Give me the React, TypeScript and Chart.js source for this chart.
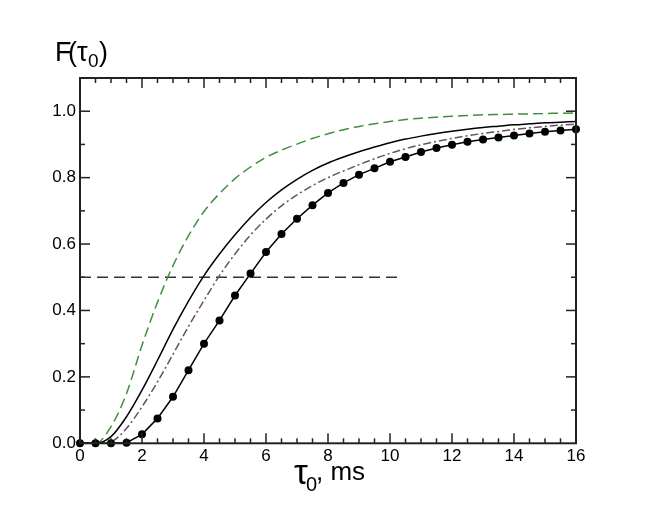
import React, { useEffect, useRef } from 'react';
import { Chart, registerables } from 'chart.js';

Chart.register(...registerables);

// tau_0, ms (sampling of all curves)
const tau = [0, 0.5, 1, 1.5, 2, 2.5, 3, 3.5, 4, 4.5, 5, 5.5, 6, 6.5, 7, 7.5, 8, 8.5, 9, 9.5, 10, 10.5, 11, 11.5, 12, 12.5, 13, 13.5, 14, 14.5, 15, 15.5, 16];

const greenDashed = [0, 0, 0.05, 0.15, 0.295, 0.425, 0.535, 0.625, 0.698, 0.752, 0.797, 0.832, 0.861, 0.883, 0.901, 0.918, 0.932, 0.944, 0.954, 0.962, 0.969, 0.975, 0.979, 0.982, 0.985, 0.987, 0.989, 0.99, 0.991, 0.992, 0.993, 0.994, 0.995];
const blackSolid = [0, 0, 0.02, 0.08, 0.16, 0.25, 0.343, 0.428, 0.505, 0.57, 0.628, 0.68, 0.725, 0.763, 0.795, 0.822, 0.844, 0.862, 0.878, 0.892, 0.905, 0.916, 0.925, 0.933, 0.94, 0.946, 0.951, 0.955, 0.959, 0.962, 0.965, 0.967, 0.969];
const purpleDashDot = [0, 0, 0.005, 0.045, 0.11, 0.185, 0.268, 0.352, 0.43, 0.505, 0.57, 0.627, 0.675, 0.715, 0.748, 0.776, 0.8, 0.82, 0.839, 0.857, 0.873, 0.887, 0.899, 0.909, 0.918, 0.926, 0.933, 0.939, 0.945, 0.95, 0.954, 0.958, 0.961];
const blackDots = [0, 0, 0, 0.002, 0.027, 0.075, 0.14, 0.22, 0.3, 0.37, 0.445, 0.511, 0.576, 0.63, 0.676, 0.717, 0.754, 0.784, 0.809, 0.828, 0.848, 0.862, 0.877, 0.889, 0.899, 0.908, 0.915, 0.921, 0.927, 0.933, 0.938, 0.942, 0.946];

const halfLineX = [0, 10.3];
const halfLineY = [0.5, 0.5];

const xTicks = [0, 2, 4, 6, 8, 10, 12, 14, 16];
const yTicks = [0, 0.2, 0.4, 0.6, 0.8, 1.0];
const xRange = [0, 16];
const yRange = [0, 1.1];
const xMinorStep = 0.5;
const yMinorStep = 0.1;

const FONT = '"Liberation Sans", Arial, Helvetica, sans-serif';

const pts = (xs: number[], ys: number[]) => xs.map((x, i) => ({ x, y: ys[i] }));

const framePlugin = {
  id: 'frame',
  afterDraw(chart: any) {
    const { ctx, chartArea: a, scales } = chart;
    const x = scales.x;
    const y = scales.y;
    ctx.save();
    ctx.strokeStyle = '#222';
    ctx.lineWidth = 1.5;
    const line = (x1: number, y1: number, x2: number, y2: number) => {
      ctx.beginPath();
      ctx.moveTo(x1, y1);
      ctx.lineTo(x2, y2);
      ctx.stroke();
    };
    const nx = Math.round((xRange[1] - xRange[0]) / xMinorStep);
    for (let i = 1; i < nx; i++) {
      const v = xRange[0] + i * xMinorStep;
      const major = xTicks.some((t) => Math.abs(t - v) < 1e-9);
      const L = major ? 10 : 5;
      const px = x.getPixelForValue(v);
      line(px, a.bottom, px, a.bottom - L);
      line(px, a.top, px, a.top + L);
    }
    const ny = Math.round((yRange[1] - yRange[0]) / yMinorStep);
    for (let i = 1; i < ny; i++) {
      const v = yRange[0] + i * yMinorStep;
      const major = yTicks.some((t) => Math.abs(t - v) < 1e-9);
      const L = major ? 10 : 5;
      const py = y.getPixelForValue(v);
      line(a.left, py, a.left + L, py);
      line(a.right, py, a.right - L, py);
    }
    ctx.lineWidth = 2;
    ctx.strokeRect(a.left, a.top, a.right - a.left, a.bottom - a.top);

    // axis titles
    ctx.fillStyle = '#000';
    ctx.textBaseline = 'alphabetic';
    ctx.textAlign = 'left';
    // F(τ0)
    ctx.font = `27px ${FONT}`;
    ctx.fillText('F', a.left - 25, a.top - 17);
    ctx.fillText('(', a.left - 12, a.top - 17);
    ctx.fillText('τ', a.left - 3, a.top - 17);
    ctx.fillText(')', a.left + 19, a.top - 17);
    ctx.font = `19px ${FONT}`;
    ctx.fillText('0', a.left + 8, a.top - 11);
    // τ0, ms
    const cx = (a.left + a.right) / 2;
    ctx.font = `35px ${FONT}`;
    ctx.fillText('τ', cx - 34, a.bottom + 41);
    ctx.font = `20px ${FONT}`;
    ctx.fillText('0', cx - 22, a.bottom + 48);
    ctx.font = `26px ${FONT}`;
    ctx.fillText(', ms', cx - 12, a.bottom + 37);
    ctx.restore();
  },
};

export default function App() {
  const ref = useRef<HTMLCanvasElement>(null);
  useEffect(() => {
    const canvas = ref.current!;
    const chart = new Chart(canvas, {
      type: 'line',
      data: {
        datasets: [
          {
            data: pts(tau, blackDots),
            borderColor: '#000',
            backgroundColor: '#000',
            borderWidth: 1.5,
            pointRadius: 4,
            pointBackgroundColor: '#000',
            pointBorderWidth: 0,
            tension: 0,
          },
          {
            data: pts(tau, blackSolid),
            borderColor: '#000',
            borderWidth: 1.5,
            pointRadius: 0,
            cubicInterpolationMode: 'monotone',
          },
          {
            data: pts(tau, purpleDashDot),
            borderColor: '#6b4c6b',
            borderWidth: 1.5,
            borderDash: [8, 3, 2, 3],
            pointRadius: 0,
            cubicInterpolationMode: 'monotone',
          },
          {
            data: pts(tau, greenDashed),
            borderColor: '#3f8f3f',
            borderWidth: 1.5,
            borderDash: [10, 5],
            pointRadius: 0,
            cubicInterpolationMode: 'monotone',
          },
          {
            data: pts(halfLineX, halfLineY),
            borderColor: '#333',
            borderWidth: 1.3,
            borderDash: [11, 6],
            pointRadius: 0,
          },
        ],
      },
      options: {
        responsive: false,
        animation: false,
        devicePixelRatio: 1,
        clip: false as any,
        layout: { padding: { left: 0, right: 78, top: 78, bottom: 0 } },
        plugins: {
          legend: { display: false },
          tooltip: { enabled: false },
          title: { display: false },
        },
        scales: {
          x: {
            type: 'linear',
            min: xRange[0],
            max: xRange[1],
            grid: { display: false, drawTicks: false },
            border: { display: false },
            ticks: {
              color: '#000',
              font: { family: FONT, size: 17 },
              padding: 3,
              maxRotation: 0,
              callback: (v: any) => String(v),
            },
            afterBuildTicks: (s: any) => {
              s.ticks = xTicks.map((v) => ({ value: v }));
            },
            afterFit: (s: any) => {
              s.height = 80.7;
            },
          },
          y: {
            type: 'linear',
            min: yRange[0],
            max: yRange[1],
            grid: { display: false, drawTicks: false },
            border: { display: false },
            ticks: {
              color: '#000',
              font: { family: FONT, size: 17 },
              padding: 4,
              callback: (v: any) => Number(v).toFixed(1),
            },
            afterBuildTicks: (s: any) => {
              s.ticks = yTicks.map((v) => ({ value: v }));
            },
            afterFit: (s: any) => {
              s.width = 80;
            },
          },
        },
      },
      plugins: [framePlugin],
    } as any);
    return () => chart.destroy();
  }, []);
  return (
    <div style={{ position: 'fixed', left: 0, top: 0, width: 654, height: 524, background: '#fff' }}>
      <canvas ref={ref} width={654} height={524} style={{ display: 'block', width: 654, height: 524 }} />
    </div>
  );
}
